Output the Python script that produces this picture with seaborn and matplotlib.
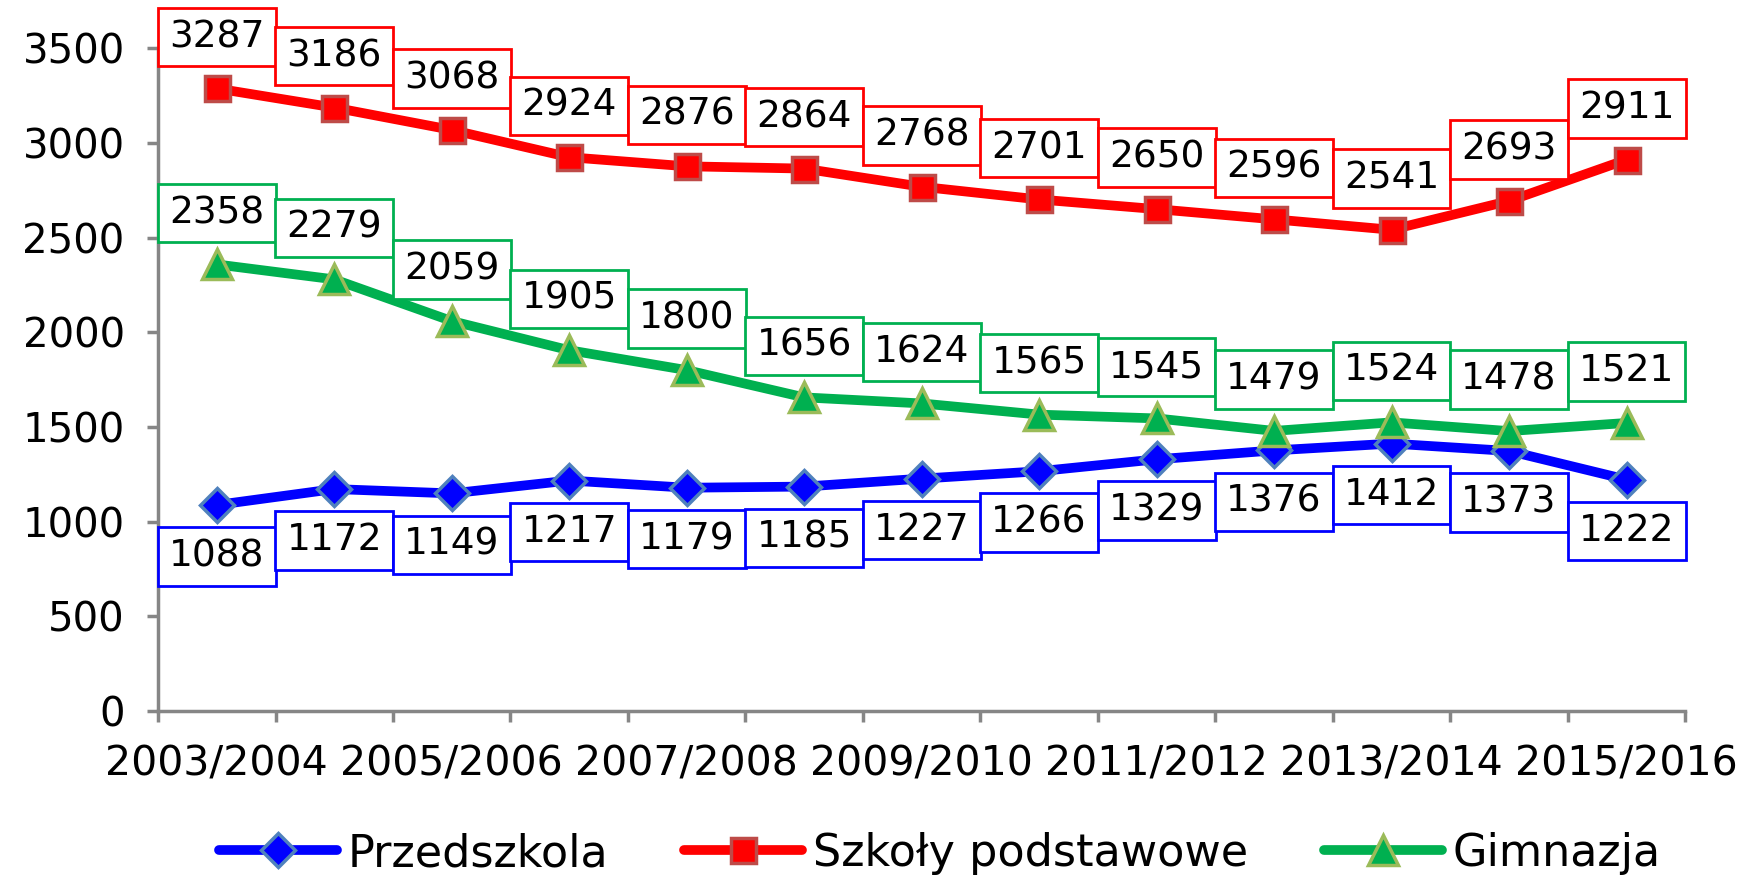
import matplotlib
matplotlib.use("Agg")
import matplotlib.pyplot as plt
import seaborn as sns
import pandas as pd
import numpy as np

years = ["2003/2004", "2004/2005", "2005/2006", "2006/2007", "2007/2008", "2008/2009",
         "2009/2010", "2010/2011", "2011/2012", "2012/2013", "2013/2014", "2014/2015", "2015/2016"]
przedszkola = [1088, 1172, 1149, 1217, 1179, 1185, 1227, 1266, 1329, 1376, 1412, 1373, 1222]
szkoly = [3287, 3186, 3068, 2924, 2876, 2864, 2768, 2701, 2650, 2596, 2541, 2693, 2911]
gimnazja = [2358, 2279, 2059, 1905, 1800, 1656, 1624, 1565, 1545, 1479, 1524, 1478, 1521]
series_names = ["Przedszkola", "Szkoły podstawowe", "Gimnazja"]
yticks = [0, 500, 1000, 1500, 2000, 2500, 3000, 3500]

sns.set_style("white")
plt.rcParams['font.family'] = ['DejaVu Sans']
plt.rcParams['text.color'] = 'black'
plt.rcParams['xtick.labelcolor'] = 'black'
plt.rcParams['ytick.labelcolor'] = 'black'

fig = plt.figure(figsize=(17.5, 8.75), dpi=100)
ax = fig.add_axes([0.0903, 0.1874, 0.963 - 0.0903, 0.945 - 0.1874])

x = np.arange(len(years))
styles = [
    (przedszkola, "#0000FF", "D", "#4F81BD", 17, "below"),
    (szkoly, "#FF0000", "s", "#BE4B48", 18, "above"),
    (gimnazja, "#00B050", "^", "#9BBB59", 21, "above"),
]
for name, (vals, col, mk, mec, ms, pos) in zip(series_names, styles):
    df = pd.DataFrame({"x": x, "y": vals})
    sns.lineplot(data=df, x="x", y="y", ax=ax, color=col, linewidth=7, marker=mk,
                 markersize=ms, markeredgecolor=mec, markeredgewidth=2.5,
                 label=name, clip_on=False, zorder=3)
    for xi, v in zip(x, vals):
        off = 37 if pos == "above" else -37
        ax.annotate(str(v), (xi, v), xytext=(0, off), textcoords="offset points",
                    ha="center", va="center", fontsize=27, color="black", zorder=5,
                    annotation_clip=False,
                    bbox=dict(boxstyle="square,pad=0.3", fc="white", ec=col, lw=2))

ax.set_xlim(-0.5, len(years) - 0.5)
ax.set_ylim(0, 3500)
ax.set_yticks(yticks)
ax.set_yticklabels([str(t) for t in yticks])
ax.set_xticks(np.arange(-0.5, len(years), 1.0))
ax.set_xticklabels([])
ax.set_xticks(x[::2], minor=True)
ax.set_xticklabels(years[::2], minor=True)
ax.tick_params(axis="x", which="minor", length=0, pad=24, labelsize=29.5, labelcolor="black")
ax.tick_params(axis="x", which="major", direction="out", length=8, width=2.5, color="#868686", bottom=True)
ax.tick_params(axis="y", direction="out", length=8, width=2.5, color="#868686", left=True, pad=16,
               labelsize=29, labelcolor="black")
ax.set_xlabel("")
ax.set_ylabel("")
for s in ["top", "right"]:
    ax.spines[s].set_visible(False)
for s in ["left", "bottom"]:
    ax.spines[s].set_color("#868686")
    ax.spines[s].set_linewidth(2.5)
ax.grid(False)

leg = ax.legend(loc="center", bbox_to_anchor=(0.512, -0.215), ncol=3, frameon=False,
                fontsize=32, handlelength=2.65, handletextpad=0.25, columnspacing=1.7,
                borderpad=0.0)
for t in leg.get_texts():
    t.set_color("black")

fig.savefig("out.png", dpi=100, facecolor="white")
